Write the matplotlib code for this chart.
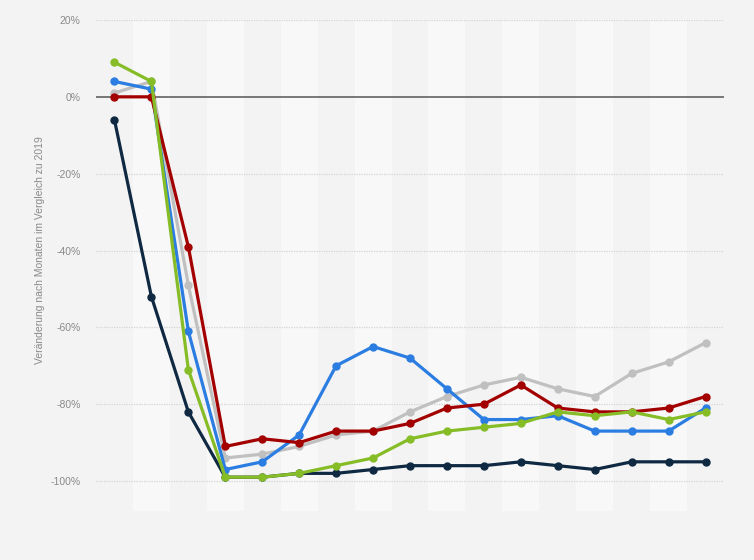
import numpy as np
import matplotlib
matplotlib.use('Agg')
import matplotlib.pyplot as plt

# values (percent change vs 2019), 17 months
months = np.arange(17)
navy = [-6, -52, -82, -99, -99, -98, -98, -97, -96, -96, -96, -95, -96, -97, -95, -95, -95]
blue = [4, 2, -61, -97, -95, -88, -70, -65, -68, -76, -84, -84, -83, -87, -87, -87, -81]
grey = [1, 4, -49, -94, -93, -91, -88, -87, -82, -78, -75, -73, -76, -78, -72, -69, -64]
red = [0, 0, -39, -91, -89, -90, -87, -87, -85, -81, -80, -75, -81, -82, -82, -81, -78]
green = [9, 4, -71, -99, -99, -98, -96, -94, -89, -87, -86, -85, -82, -83, -82, -84, -82]
yticks = [20, 0, -20, -40, -60, -80, -100]

plt.rcParams['font.family'] = ['Liberation Sans', 'DejaVu Sans']

fig = plt.figure(figsize=(7.54, 5.6), dpi=100)
fig.patch.set_facecolor('#f3f3f3')
ax = fig.add_axes([96/754, 1-511/560, (724-96)/754, (511-20)/560])
ax.set_facecolor('#f3f3f3')

# alternating column bands
for i in months:
    if i % 2 == 1:
        ax.axvspan(i-0.5, i+0.5, color='#f8f8f8', zorder=0, lw=0)

for t in yticks:
    if t == 0:
        ax.axhline(t, color='#555555', lw=1.1, zorder=1)
    else:
        ax.axhline(t, color='#d4d4d4', lw=0.9, ls=(0, (1, 1)), zorder=1)

series = [(navy, '#0f2942'), (grey, '#c0c0c0'), (blue, '#2b7de1'),
          (red, '#a30000'), (green, '#86bd27')]
for vals, col in series:
    ax.plot(months, vals, color=col, lw=2.3, marker='o', ms=5, zorder=3,
            solid_joinstyle='round')

ax.set_xlim(-0.5, 16.5)
ax.set_ylim(-107.8, 20)
ax.set_yticks(yticks)
ax.set_yticklabels(['%d%%' % t for t in yticks], color='#8a8a8a', fontsize=7.5)
ax.tick_params(axis='y', length=0, pad=11)
ax.set_xticks([])
for s in ax.spines.values():
    s.set_visible(False)

fig.text(40/754, 1-250/560, 'Veränderung nach Monaten im Vergleich zu 2019',
         rotation=90, ha='center', va='center', color='#8a8a8a', fontsize=7.5)

fig.savefig('out.png', dpi=100, facecolor=fig.get_facecolor())
